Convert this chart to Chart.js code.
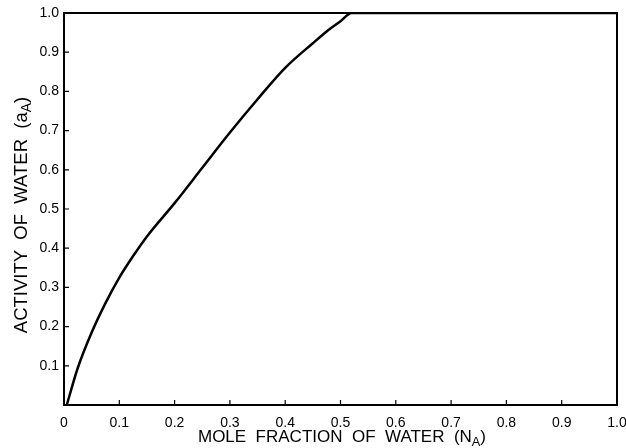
<!DOCTYPE html>
<html>
<head>
<meta charset="utf-8">
<script src="https://cdn.jsdelivr.net/npm/chart.js@4"></script>
<style>
  html, body { margin: 0; padding: 0; background: #fff; }
  #wrap { width: 626px; height: 448px; }
</style>
</head>
<body>
<div id="wrap"><canvas id="activityChart"></canvas></div>
<script>
// Water activity vs. mole fraction of water
const moleFraction = [0.005, 0.025, 0.05, 0.075, 0.1, 0.125, 0.15, 0.2, 0.25, 0.3, 0.35, 0.4, 0.45, 0.475, 0.5, 0.52, 0.6, 0.7, 0.8, 0.9, 1.0];
const activity     = [0, 0.095, 0.185, 0.26, 0.325, 0.38, 0.43, 0.515, 0.605, 0.695, 0.78, 0.86, 0.923, 0.953, 0.979, 1.0, 1.0, 1.0, 1.0, 1.0, 1.0];
const xTickValues = [0, 0.1, 0.2, 0.3, 0.4, 0.5, 0.6, 0.7, 0.8, 0.9, 1.0];
const yTickValues = [0.1, 0.2, 0.3, 0.4, 0.5, 0.6, 0.7, 0.8, 0.9, 1.0];
const xTitle = [['MOLE  FRACTION  OF  WATER  (N', false], ['A', true], [')', false]];
const yTitle = [['ACTIVITY  OF  WATER  (a', false], ['A', true], [')', false]];

const FONT = '"Liberation Sans", Arial, sans-serif';

function fmt(v) {
  return v === 0 ? '0' : v.toFixed(1);
}

// draws a text run with subscripts, centered on (0,0) of the current transform
function drawRuns(ctx, runs, size) {
  let total = 0;
  runs.forEach(([t, sub]) => {
    ctx.font = (sub ? size * 0.75 : size) + 'px ' + FONT;
    total += ctx.measureText(t).width;
  });
  let x = -total / 2;
  runs.forEach(([t, sub]) => {
    ctx.font = (sub ? size * 0.75 : size) + 'px ' + FONT;
    ctx.fillText(t, x, sub ? size * 0.3 : 0);
    x += ctx.measureText(t).width;
  });
}

const framePlugin = {
  id: 'frame',
  afterDraw(chart) {
    const ctx = chart.ctx;
    const a = chart.chartArea;
    const xs = chart.scales.x, ys = chart.scales.y;
    ctx.save();
    ctx.strokeStyle = '#000';
    ctx.lineWidth = 2;
    ctx.strokeRect(a.left, a.top, a.right - a.left, a.bottom - a.top);
    ctx.lineWidth = 1.2;
    ctx.beginPath();
    xTickValues.forEach(v => {
      const px = xs.getPixelForValue(v);
      ctx.moveTo(px, a.bottom);
      ctx.lineTo(px, a.bottom - 5);
    });
    yTickValues.forEach(v => {
      const py = ys.getPixelForValue(v);
      ctx.moveTo(a.left, py);
      ctx.lineTo(a.left + 5, py);
    });
    ctx.stroke();

    ctx.fillStyle = '#000';
    ctx.textBaseline = 'middle';
    ctx.textAlign = 'left';
    ctx.save();
    ctx.translate(342, 437);
    drawRuns(ctx, xTitle, 17);
    ctx.restore();
    ctx.save();
    ctx.translate(22, 215);
    ctx.rotate(-Math.PI / 2);
    drawRuns(ctx, yTitle, 18.5);
    ctx.restore();
    ctx.restore();
  }
};

const ctx = document.getElementById('activityChart').getContext('2d');
const activityChart = new Chart(ctx, {
  type: 'line',
  data: {
    datasets: [{
      data: moleFraction.map((x, i) => ({ x: x, y: activity[i] })),
      borderColor: '#000',
      borderWidth: 2.5,
      pointRadius: 0,
      cubicInterpolationMode: 'monotone',
      fill: false
    }]
  },
  options: {
    responsive: true,
    maintainAspectRatio: false,
    animation: false,
    layout: { padding: { top: 13, right: 9, left: 0, bottom: 0 } },
    plugins: { legend: { display: false }, tooltip: { enabled: false } },
    scales: {
      x: {
        type: 'linear',
        min: 0,
        max: 1,
        afterBuildTicks: s => { s.ticks = xTickValues.map(v => ({ value: v })); },
        afterFit: s => { s.height = 43; s.paddingRight = 0; s.paddingLeft = 0; },
        grid: { display: false, drawTicks: false },
        border: { display: false },
        ticks: {
          callback: v => fmt(v),
          color: '#000',
          padding: 10,
          maxRotation: 0,
          font: { family: FONT, size: 14 }
        }
      },
      y: {
        min: 0,
        max: 1,
        afterBuildTicks: s => { s.ticks = yTickValues.map(v => ({ value: v })); },
        afterFit: s => { s.width = 64; s.paddingTop = 0; s.paddingBottom = 0; },
        grid: { display: false, drawTicks: false },
        border: { display: false },
        ticks: {
          callback: v => fmt(v),
          color: '#000',
          padding: 5,
          font: { family: FONT, size: 14 }
        }
      }
    }
  },
  plugins: [framePlugin]
});
</script>
</body>
</html>
